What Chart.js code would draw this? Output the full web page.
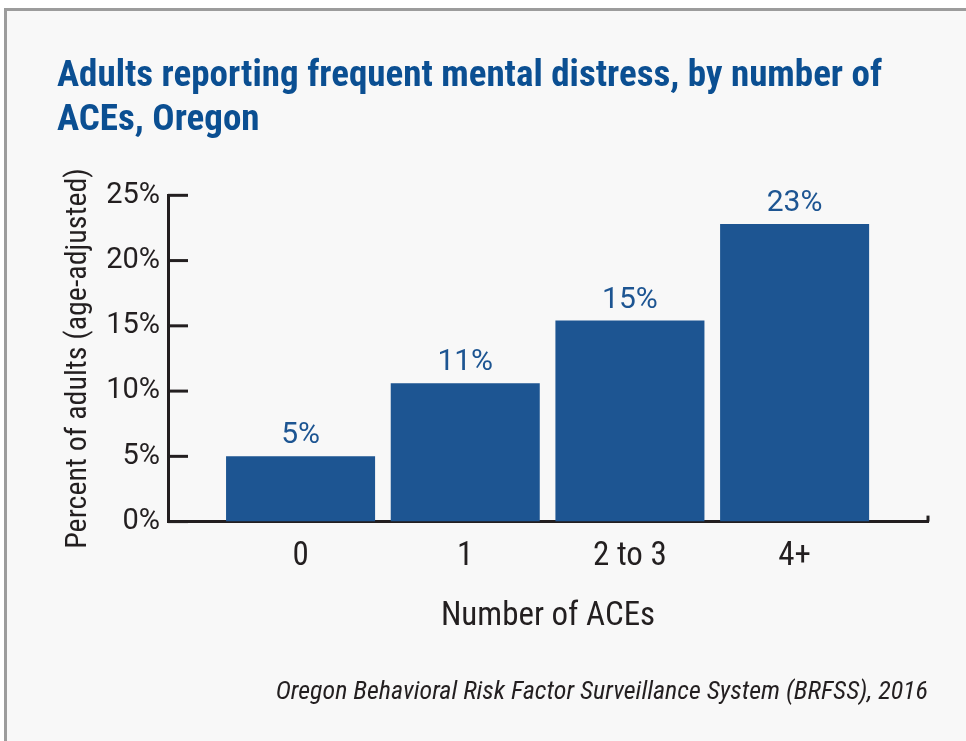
<!DOCTYPE html>
<html lang="en">
<head>
  <meta charset="UTF-8" />
  <title>Adults reporting frequent mental distress</title>
  <script src="https://cdn.jsdelivr.net/npm/chart.js"></script>
  <style>
    html, body { margin: 0; padding: 0; background: #ffffff; }
    #painel {
      position: absolute; left: 4px; top: 8px;
      width: 962px; height: 733px;
      border-top: 3px solid #9c9c9c; border-left: 3px solid #9c9c9c;
      background: #f8f8f8;
    }
    canvas { display: block; }
  </style>
</head>
<body>
<div id="painel">
  <canvas id="grafico" width="959" height="730"></canvas>
</div>
<script>
// dados
const categories = ['0', '1', '2 to 3', '4+'];
const values = [5.0, 10.6, 15.4, 22.8];
const yTicks = [0, 5, 10, 15, 20, 25];
const titleLines = ['Adults reporting frequent mental distress, by number of', 'ACEs, Oregon'];
const yTitle = 'Percent of adults (age-adjusted)';
const xTitle = 'Number of ACEs';
const source = 'Oregon Behavioral Risk Factor Surveillance System (BRFSS), 2016';

const azul = '#1d5592';
const escuro = '#231f20';
const narrow = "'Roboto Condensed', 'DejaVu Sans Condensed', sans-serif";
const humanist = "Roboto, 'Noto Sans', sans-serif";

// marcas do eixo y voltadas para dentro + rotulos das barras
const extras = {
  id: 'extras',
  afterDatasetsDraw(chart) {
    const ctx = chart.ctx;
    const x = chart.scales.x;
    const y = chart.scales.y;
    ctx.save();
    ctx.strokeStyle = escuro;
    ctx.lineWidth = 3;
    y.ticks.forEach(t => {
      const py = y.getPixelForValue(t.value);
      ctx.beginPath();
      ctx.moveTo(x.left, py);
      ctx.lineTo(x.left + 20, py);
      ctx.stroke();
    });
    ctx.beginPath();
    ctx.moveTo(x.right, y.bottom);
    ctx.lineTo(x.right, y.bottom - 6);
    ctx.stroke();

    ctx.fillStyle = azul;
    ctx.font = '30px ' + humanist;
    ctx.textAlign = 'center';
    ctx.textBaseline = 'alphabetic';
    chart.getDatasetMeta(0).data.forEach((bar, i) => {
      ctx.fillText(Math.round(values[i]) + '%', bar.x, bar.y - 13);
    });
    ctx.restore();
  }
};

const ctx = document.getElementById('grafico').getContext('2d');
new Chart(ctx, {
  type: 'bar',
  data: {
    datasets: [{
      data: categories.map((c, i) => ({ x: i, y: values[i] })),
      backgroundColor: azul,
      borderWidth: 0,
      barPercentage: 1,
      categoryPercentage: 0.905
    }]
  },
  options: {
    responsive: false,
    animation: false,
    layout: { padding: { left: 50, right: 38, top: 0, bottom: 33 } },
    plugins: {
      legend: { display: false },
      tooltip: { enabled: false },
      title: {
        display: true, text: titleLines, align: 'start', color: '#0b4f92',
        font: { family: narrow, size: 37, weight: 'bold', lineHeight: 1.18 },
        padding: { top: 44, bottom: 53 }
      },
      subtitle: {
        display: true, text: source, position: 'bottom', align: 'end', color: escuro,
        font: { family: narrow, size: 26, style: 'italic' },
        padding: { top: 40, bottom: 0 }
      }
    },
    scales: {
      x: {
        type: 'linear', min: -0.805, max: 3.81, offset: false,
        grid: { display: false, drawTicks: false, offset: false },
        border: { display: true, color: escuro, width: 3 },
        afterBuildTicks: s => { s.ticks = categories.map((c, i) => ({ value: i })); },
        ticks: {
          padding: 15, color: escuro,
          font: { family: narrow, size: 33 },
          callback: v => categories[Math.round(v)]
        },
        title: {
          display: true, text: xTitle, color: escuro,
          font: { family: narrow, size: 33 },
          padding: { top: 6, bottom: 0 }
        }
      },
      y: {
        min: 0, max: 25,
        afterBuildTicks: s => { s.ticks = yTicks.map(v => ({ value: v })); },
        afterFit: s => { s.width = 111; },
        grid: { display: false, drawTicks: false },
        border: { display: true, color: escuro, width: 3 },
        ticks: {
          padding: 8, color: escuro,
          font: { family: humanist, size: 29 },
          callback: v => v + '%'
        },
        title: {
          display: true, text: yTitle, color: escuro,
          font: { family: narrow, size: 30 },
          padding: { top: 3, bottom: 2 }
        }
      }
    }
  },
  plugins: [extras]
});
</script>
</body>
</html>
